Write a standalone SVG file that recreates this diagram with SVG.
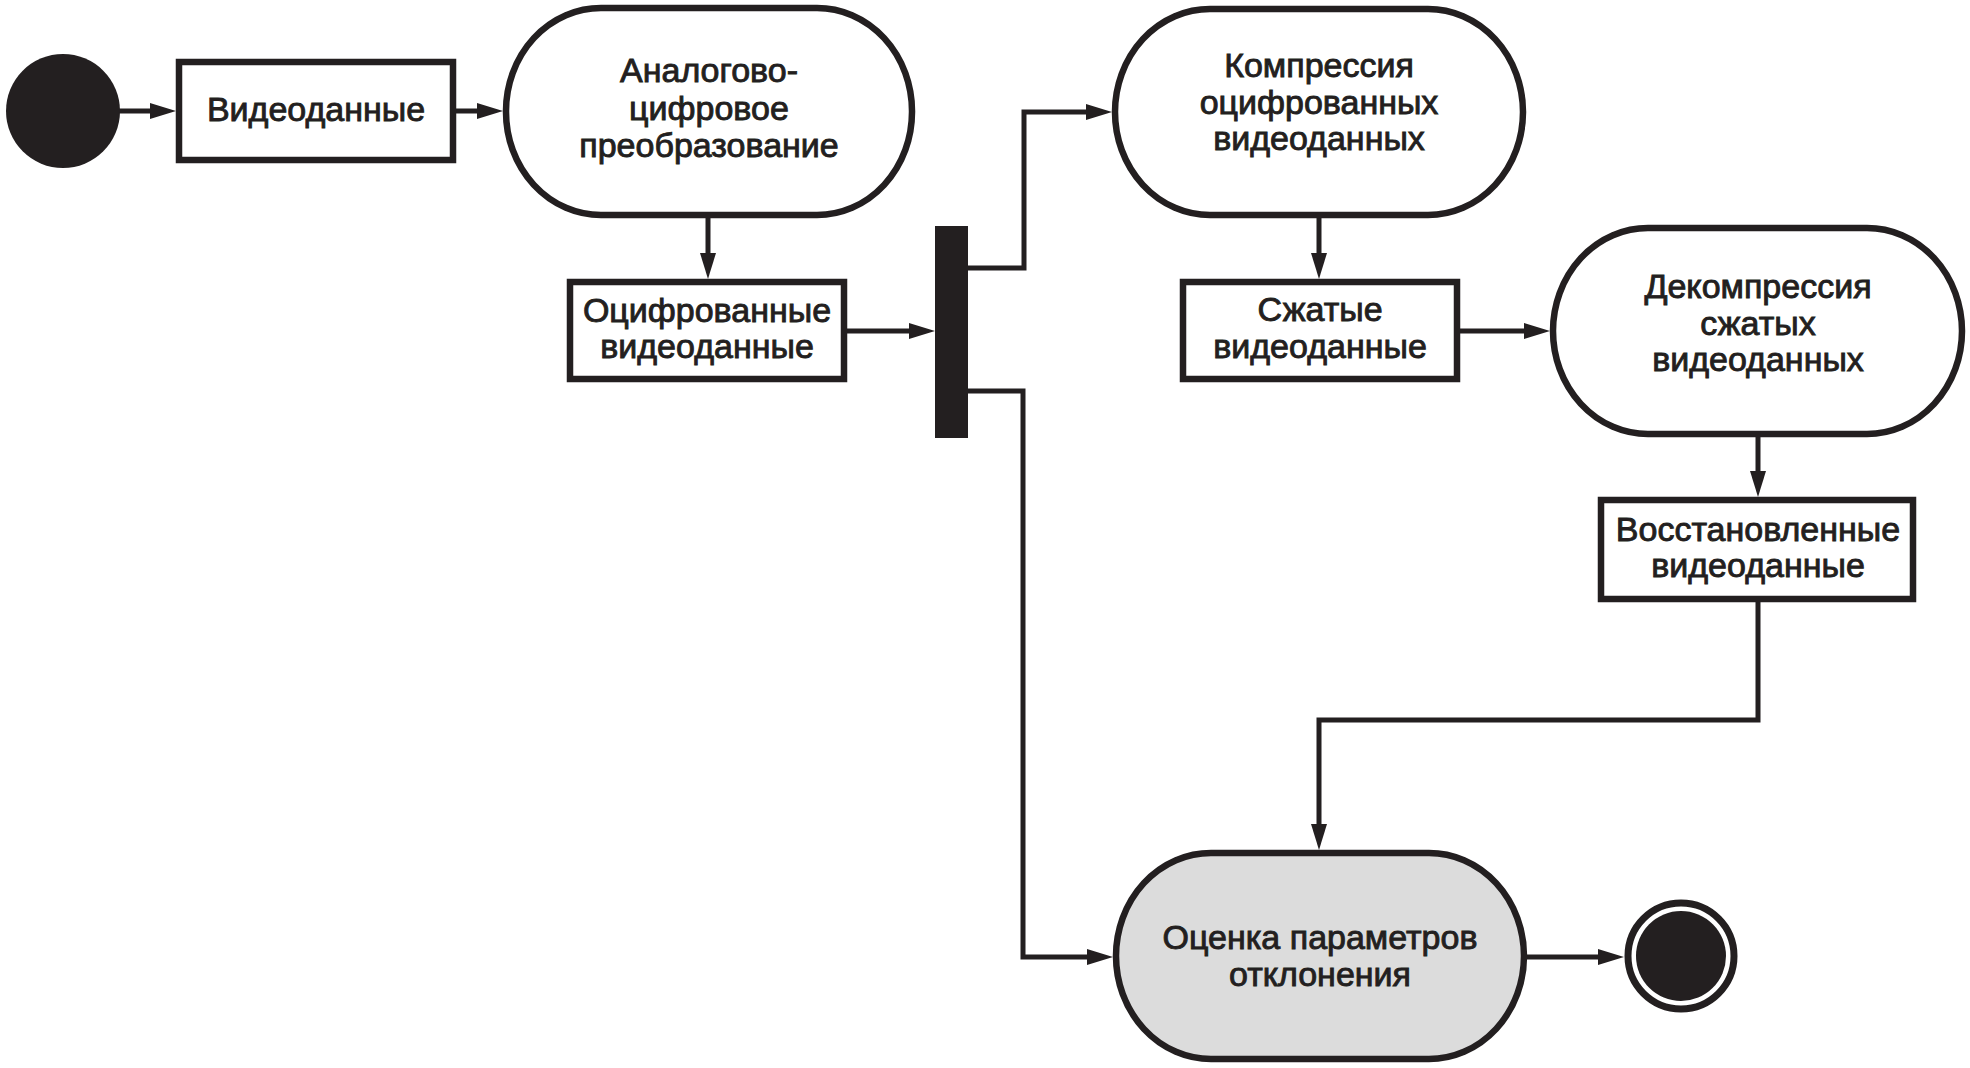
<svg xmlns="http://www.w3.org/2000/svg" width="1970" height="1068" viewBox="0 0 1970 1068">
<style>
.node{fill:#ffffff;stroke:#231f20;stroke-width:6.5}
.eval{fill:#dcdcdc;stroke:#231f20;stroke-width:6.5}
.conn{fill:none;stroke:#231f20;stroke-width:5}
.lbl{font-family:"Liberation Sans",Arial,Helvetica,sans-serif;font-size:34px;fill:#231f20;stroke:#231f20;stroke-width:0.9px;text-anchor:middle}
</style>
<defs>
<marker id="arr" markerUnits="userSpaceOnUse" markerWidth="26" markerHeight="16" refX="16" refY="8" orient="auto" overflow="visible">
<path d="M0,0 L26,8 L0,16 z" fill="#231f20"/>
</marker>
</defs>
<rect width="1970" height="1068" fill="#ffffff"/>
<g id="connectors">
<path class="conn" marker-end="url(#arr)" d="M118,111 L166,111"/>
<path class="conn" marker-end="url(#arr)" d="M455,111 L493,111"/>
<path class="conn" marker-end="url(#arr)" d="M708,216 L708,269"/>
<path class="conn" marker-end="url(#arr)" d="M846,331 L925,331"/>
<path class="conn" marker-end="url(#arr)" d="M966,268 L1024,268 L1024,112 L1102,112"/>
<path class="conn" marker-end="url(#arr)" d="M1319,216 L1319,269"/>
<path class="conn" marker-end="url(#arr)" d="M1459,331 L1540,331"/>
<path class="conn" marker-end="url(#arr)" d="M1758,436 L1758,487"/>
<path class="conn" marker-end="url(#arr)" d="M1758,601 L1758,720 L1319,720 L1319,840"/>
<path class="conn" marker-end="url(#arr)" d="M966,391 L1023,391 L1023,957 L1103,957"/>
<path class="conn" marker-end="url(#arr)" d="M1526,957 L1614,957"/>
</g>
<g id="start">
<circle cx="63" cy="111" r="57" fill="#231f20"/>
</g>
<g id="videodata">
<rect class="node" x="179" y="62" width="274" height="98"/>
<text class="lbl" x="316" y="121">Видеоданные</text>
</g>
<g id="adc">
<rect class="node" x="506" y="8" width="406" height="207" rx="95" ry="103"/>
<text class="lbl" x="709" y="82">Аналогово-</text>
<text class="lbl" x="709" y="120">цифровое</text>
<text class="lbl" x="709" y="157">преобразование</text>
</g>
<g id="digitized">
<rect class="node" x="570" y="282" width="274" height="97"/>
<text class="lbl" x="707" y="322">Оцифрованные</text>
<text class="lbl" x="707" y="358">видеоданные</text>
</g>
<g id="fork">
<rect x="935" y="226" width="33" height="212" fill="#231f20"/>
</g>
<g id="compression">
<rect class="node" x="1115" y="9" width="408" height="206" rx="95" ry="103"/>
<text class="lbl" x="1319" y="77">Компрессия</text>
<text class="lbl" x="1319" y="114">оцифрованных</text>
<text class="lbl" x="1319" y="150">видеоданных</text>
</g>
<g id="compressed">
<rect class="node" x="1183" y="282" width="274" height="97"/>
<text class="lbl" x="1320" y="321">Сжатые</text>
<text class="lbl" x="1320" y="358">видеоданные</text>
</g>
<g id="decompression">
<rect class="node" x="1553" y="228" width="409" height="206" rx="95" ry="103"/>
<text class="lbl" x="1758" y="298">Декомпрессия</text>
<text class="lbl" x="1758" y="335">сжатых</text>
<text class="lbl" x="1758" y="371">видеоданных</text>
</g>
<g id="restored">
<rect class="node" x="1601" y="500" width="312" height="99"/>
<text class="lbl" x="1758" y="541">Восстановленные</text>
<text class="lbl" x="1758" y="577">видеоданные</text>
</g>
<g id="evaluation">
<rect class="eval" x="1116" y="853" width="408" height="206" rx="95" ry="103"/>
<text class="lbl" x="1320" y="949">Оценка параметров</text>
<text class="lbl" x="1320" y="986">отклонения</text>
</g>
<g id="end">
<circle cx="1681" cy="956" r="53" fill="#ffffff" stroke="#231f20" stroke-width="7"/>
<circle cx="1681" cy="956" r="45" fill="#231f20"/>
</g>
</svg>
